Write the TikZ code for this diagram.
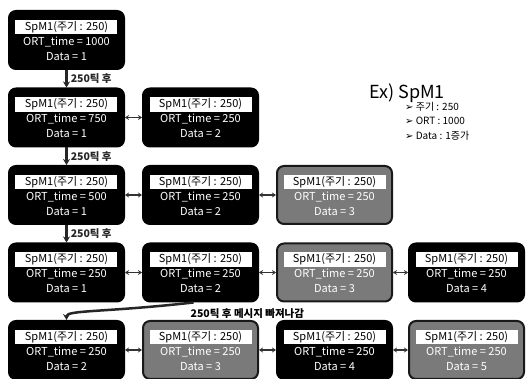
\documentclass[tikz,border=0pt]{standalone}
\usepackage{fontspec}
\setmainfont{Noto Sans CJK KR}
\newfontfamily\arrowfont{DejaVu Sans}
\usetikzlibrary{positioning, arrows.meta}
\setlength{\fboxsep}{1.5pt}
\newcommand{\spmtitle}{\colorbox{white}{\makebox[99pt]{\color{black}SpM1(주기 : 250)}}}

\begin{document}
\begin{tikzpicture}[x=1pt, y=1pt,
    every node/.style={font=\fontsize{11}{15}\selectfont, align=center, inner sep=0pt},
    spmbox/.style={draw=black, fill=black, line width=2pt, rounded corners=7pt, minimum width=115pt, minimum height=58pt, text=white},
    dimbox/.style={spmbox, fill=black!52, draw=black!90},
    tickarrow/.style={-{Stealth[length=6pt, width=7pt]}, line width=2.5pt, black!85},
    link/.style={{Stealth[length=4pt, width=5pt]}-{Stealth[length=4pt, width=5pt]}, line width=1.6pt, black!80},
    ticklabel/.style={font=\bfseries\fontsize{10.5}{12}\selectfont}]
  \useasboundingbox (0,0) rectangle (528,-379);

  % row 1
  \node[spmbox] (r1c1) at (66.5,-40) {\spmtitle\\ ORT\_time = 1000\\ Data = 1};
  % row 2
  \node[spmbox, below=17.5pt of r1c1] (r2c1) {\spmtitle\\ ORT\_time = 750\\ Data = 1};
  \node[spmbox, right=17pt of r2c1] (r2c2) {\spmtitle\\ ORT\_time = 250\\ Data = 2};
  % row 3
  \node[spmbox, below=17.5pt of r2c1] (r3c1) {\spmtitle\\ ORT\_time = 500\\ Data = 1};
  \node[spmbox, right=17pt of r3c1] (r3c2) {\spmtitle\\ ORT\_time = 250\\ Data = 2};
  \node[dimbox, right=17pt of r3c2] (r3c3) {\spmtitle\\ ORT\_time = 250\\ Data = 3};
  % row 4
  \node[spmbox, below=17.5pt of r3c1] (r4c1) {\spmtitle\\ ORT\_time = 250\\ Data = 1};
  \node[spmbox, right=17pt of r4c1] (r4c2) {\spmtitle\\ ORT\_time = 250\\ Data = 2};
  \node[dimbox, right=17pt of r4c2] (r4c3) {\spmtitle\\ ORT\_time = 250\\ Data = 3};
  \node[spmbox, right=15pt of r4c3] (r4c4) {\spmtitle\\ ORT\_time = 250\\ Data = 4};
  % row 5
  \node[spmbox, below=17.5pt of r4c1] (r5c1) {\spmtitle\\ ORT\_time = 250\\ Data = 2};
  \node[dimbox, right=17pt of r5c1] (r5c2) {\spmtitle\\ ORT\_time = 250\\ Data = 3};
  \node[spmbox, right=17pt of r5c2] (r5c3) {\spmtitle\\ ORT\_time = 250\\ Data = 4};
  \node[dimbox, right=15pt of r5c3] (r5c4) {\spmtitle\\ ORT\_time = 250\\ Data = 5};

  % example
  \node[anchor=west, font=\fontsize{18}{20}\selectfont] (ex) at (369,-93) {Ex) SpM1};
  \node[anchor=north west, align=left, font=\fontsize{10}{14.5}\selectfont] (exlist) at (405,-102)
    {{\arrowfont ➢} 주기 : 250\\ {\arrowfont ➢} ORT : 1000\\ {\arrowfont ➢} Data : 1증가};

  % ticks
  \draw[tickarrow] (r1c1) -- node[ticklabel, right=3pt] (t1) {250틱 후} (r2c1);
  \draw[tickarrow] (r2c1) -- node[ticklabel, right=3pt] (t2) {250틱 후} (r3c1);
  \draw[tickarrow] (r3c1) -- node[ticklabel, right=3pt] (t3) {250틱 후} (r4c1);
  \draw[tickarrow] ([xshift=-7pt]r4c2.south) .. controls +(-90,-10) and +(0,10) .. (r5c1.north);
  \node[ticklabel, anchor=west] (msg) at ([xshift=-10pt, yshift=-11pt]r4c2.south) {250틱 후 메시지 빠져나감};

  % queue links
  \draw[link] (r2c1) -- (r2c2);
  \draw[link] (r3c1) -- (r3c2);
  \draw[link] (r3c2) -- (r3c3);
  \draw[link] (r4c1) -- (r4c2);
  \draw[link] (r4c2) -- (r4c3);
  \draw[link] (r4c3) -- (r4c4);
  \draw[link] (r5c1) -- (r5c2);
  \draw[link] (r5c2) -- (r5c3);
  \draw[link] (r5c3) -- (r5c4);
\end{tikzpicture}
\end{document}
